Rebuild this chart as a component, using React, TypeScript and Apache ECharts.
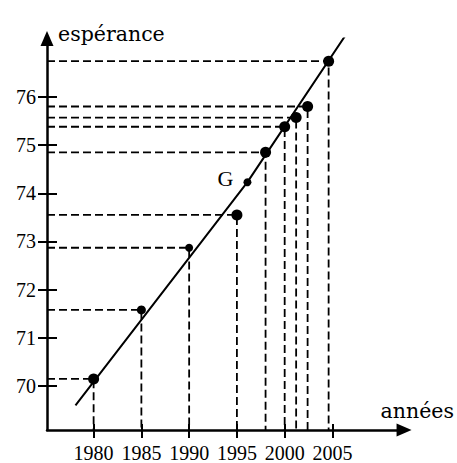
import React, { useEffect, useRef } from 'react';
import * as echarts from 'echarts';

// Data
const years = [1980, 1985, 1990, 1995, 1998, 2000, 2001.2, 2002.4, 2004.6];
const esperance = [70.15, 71.58, 72.87, 73.55, 74.85, 75.38, 75.57, 75.8, 76.74];
const dotSizes = [11, 9, 8, 11, 11, 11, 11, 11, 11];
const pointG = [1996.1, 74.23];
const regressionLine = [
  [1978.1, 69.6],
  [1996.1, 74.23],
  [2008.2, 77.82],
];
const xTicks = [1980, 1985, 1990, 1995, 2000, 2005];
const yTicks = [70, 71, 72, 73, 74, 75, 76];
const yName = 'espérance';
const xName = 'années';

const X_MIN = 1975.12;
const X_MAX = 2012.5;
const Y_MIN = 69.09;
const Y_MAX = 77.21;

const FONT = 'Liberation Serif';
const NAME_FONT = 'DejaVu Serif';

export default function App() {
  const ref = useRef<HTMLDivElement>(null);

  useEffect(() => {
    if (!ref.current) return;
    const chart = echarts.init(ref.current, null, { renderer: 'svg' });

    const guideSeries = years.map((x, i) => ({
      type: 'line',
      data: [
        [X_MIN, esperance[i]],
        [x, esperance[i]],
        [x, Y_MIN],
      ],
      symbol: 'none',
      silent: true,
      z: 1,
      lineStyle: { color: '#000', width: 1.8, type: [8, 4] },
    }));

    const axisCommon = {
      axisLine: {
        show: true,
        lineStyle: { color: '#000', width: 2.5 },
        symbol: ['none', 'triangle'],
        symbolSize: [13, 15],
      },
      splitLine: { show: false },
    };

    chart.setOption({
      animation: false,
      backgroundColor: '#fff',
      grid: { left: 47, top: 38.5, right: 457 - 408.5, bottom: 463 - 432, containLabel: false },
      xAxis: [
        {
          type: 'value',
          min: X_MIN,
          max: X_MAX,
          name: xName,
          nameLocation: 'end',
          nameGap: -23.5,
          nameTextStyle: {
            color: '#000',
            fontFamily: NAME_FONT,
            fontSize: 20.5,
            align: 'left',
            verticalAlign: 'bottom',
            padding: [0, 0, 9, 0],
          },
          ...axisCommon,
          axisTick: { show: true, customValues: xTicks, length: 8, lineStyle: { color: '#000', width: 2 } },
          axisLabel: {
            customValues: xTicks,
            formatter: (v: number) => String(v),
            color: '#000',
            fontFamily: FONT,
            fontSize: 20,
            margin: 13,
          },
        },
        {
          type: 'value',
          min: X_MIN,
          max: X_MAX,
          position: 'bottom',
          offset: 0,
          axisLine: { show: false },
          splitLine: { show: false },
          axisTick: { show: true, inside: true, customValues: xTicks, length: 6, lineStyle: { color: '#000', width: 2 } },
          axisLabel: { show: false },
        },
      ],
      yAxis: [
        {
          type: 'value',
          min: Y_MIN,
          max: Y_MAX,
          name: yName,
          nameLocation: 'end',
          nameGap: 5,
          nameTextStyle: {
            color: '#000',
            fontFamily: NAME_FONT,
            fontSize: 20.5,
            align: 'left',
            verticalAlign: 'middle',
            padding: [0, 0, 0, 11],
          },
          ...axisCommon,
          axisTick: { show: true, customValues: yTicks, length: 9, lineStyle: { color: '#000', width: 2 } },
          axisLabel: {
            customValues: yTicks,
            formatter: (v: number) => String(v),
            color: '#000',
            fontFamily: FONT,
            fontSize: 20,
            margin: 11,
          },
        },
        {
          type: 'value',
          min: Y_MIN,
          max: Y_MAX,
          position: 'left',
          offset: 0,
          axisLine: { show: false },
          splitLine: { show: false },
          axisTick: { show: true, inside: true, customValues: yTicks, length: 10, lineStyle: { color: '#000', width: 2 } },
          axisLabel: { show: false },
        },
      ],
      series: [
        ...guideSeries,
        {
          type: 'line',
          data: regressionLine,
          symbol: 'none',
          silent: true,
          z: 3,
          lineStyle: { color: '#000', width: 2 },
        },
        {
          type: 'scatter',
          z: 4,
          data: years.map((x, i) => ({ value: [x, esperance[i]], symbolSize: dotSizes[i] })),
          itemStyle: { color: '#000', opacity: 1 },
        },
        {
          type: 'scatter',
          z: 4,
          data: [{ value: pointG, symbolSize: 8 }],
          itemStyle: { color: '#000', opacity: 1 },
          label: {
            show: true,
            formatter: 'G',
            position: 'left',
            distance: 10,
            offset: [0, -4],
            color: '#000',
            fontFamily: FONT,
            fontSize: 22,
          },
        },
      ],
    });

    return () => chart.dispose();
  }, []);

  return (
    <div
      ref={ref}
      style={{ position: 'absolute', left: 0, top: 0, width: 457, height: 463 }}
    />
  );
}
